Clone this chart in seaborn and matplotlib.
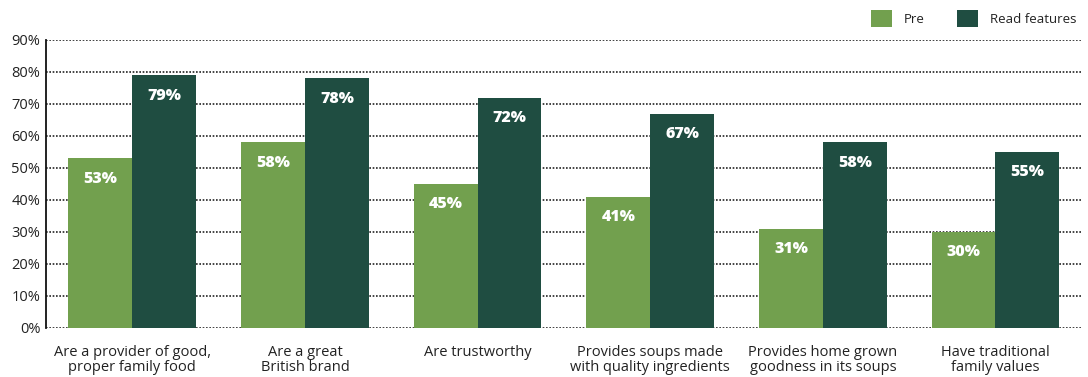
import matplotlib
matplotlib.use("Agg")
import matplotlib.pyplot as plt
import seaborn as sns
import pandas as pd
from matplotlib.patches import Patch

categories = [
    "Are a provider of good,\nproper family food",
    "Are a great\nBritish brand",
    "Are trustworthy",
    "Provides soups made\nwith quality ingredients",
    "Provides home grown\ngoodness in its soups",
    "Have traditional\nfamily values",
]
series_names = ["Pre", "Read features"]
pre_values = [53, 58, 45, 41, 31, 30]
read_values = [79, 78, 72, 67, 58, 55]
y_ticks = [0, 10, 20, 30, 40, 50, 60, 70, 80, 90]
y_tick_labels = [f"{v}%" for v in y_ticks]

colors = {"Pre": "#72a04e", "Read features": "#1f4d41"}

df = pd.DataFrame({
    "category": categories * 2,
    "series": [series_names[0]] * len(categories) + [series_names[1]] * len(categories),
    "value": pre_values + read_values,
})

sns.set_theme(style="white")
plt.rcParams["font.family"] = ["Open Sans", "DejaVu Sans"]

fig = plt.figure(figsize=(10.88, 3.77), dpi=100)
ax = fig.add_axes([0.0423, 0.130, 0.952, 0.764])

sns.barplot(data=df, x="category", y="value", hue="series", order=categories,
            hue_order=series_names, palette=colors, width=0.74, gap=0,
            saturation=1, errorbar=None, ax=ax, legend=False, zorder=3,
            linewidth=0)

ax.set_ylim(0, 90)
ax.set_xlim(-0.5, 5.5)
ax.set_yticks(y_ticks)
ax.set_yticklabels(y_tick_labels, fontsize=10.5, color="#222222")
ax.tick_params(axis="both", length=0, pad=4)
ax.set_xticklabels(categories, fontsize=10.5, color="#222222", linespacing=1.05)
ax.tick_params(axis="x", pad=12)
ax.set_xlabel("")
ax.set_ylabel("")

ax.yaxis.grid(True, linestyle=(0, (1, 1)), color="#222222", linewidth=1.2, zorder=0)
ax.set_axisbelow(True)
for s in ["top", "right", "bottom"]:
    ax.spines[s].set_visible(False)
ax.spines["left"].set_color("#111111")
ax.spines["left"].set_linewidth(1.3)

for container in ax.containers:
    for patch in container:
        h = patch.get_height()
        ax.annotate(f"{int(round(h))}%",
                    (patch.get_x() + patch.get_width() / 2, h),
                    xytext=(0, -9), textcoords="offset points",
                    ha="center", va="top", color="white",
                    fontsize=11.5, fontweight="heavy", zorder=5)

handles = [Patch(facecolor=colors[s], edgecolor="none") for s in series_names]
fig.legend(handles, series_names, loc="upper right", bbox_to_anchor=(1.0, 1.005),
           ncol=2, frameon=False, fontsize=9.5, handlelength=1.6, handleheight=1.6,
           columnspacing=2.4, handletextpad=0.9, labelcolor="#222222")

fig.savefig("out.png", dpi=100)
